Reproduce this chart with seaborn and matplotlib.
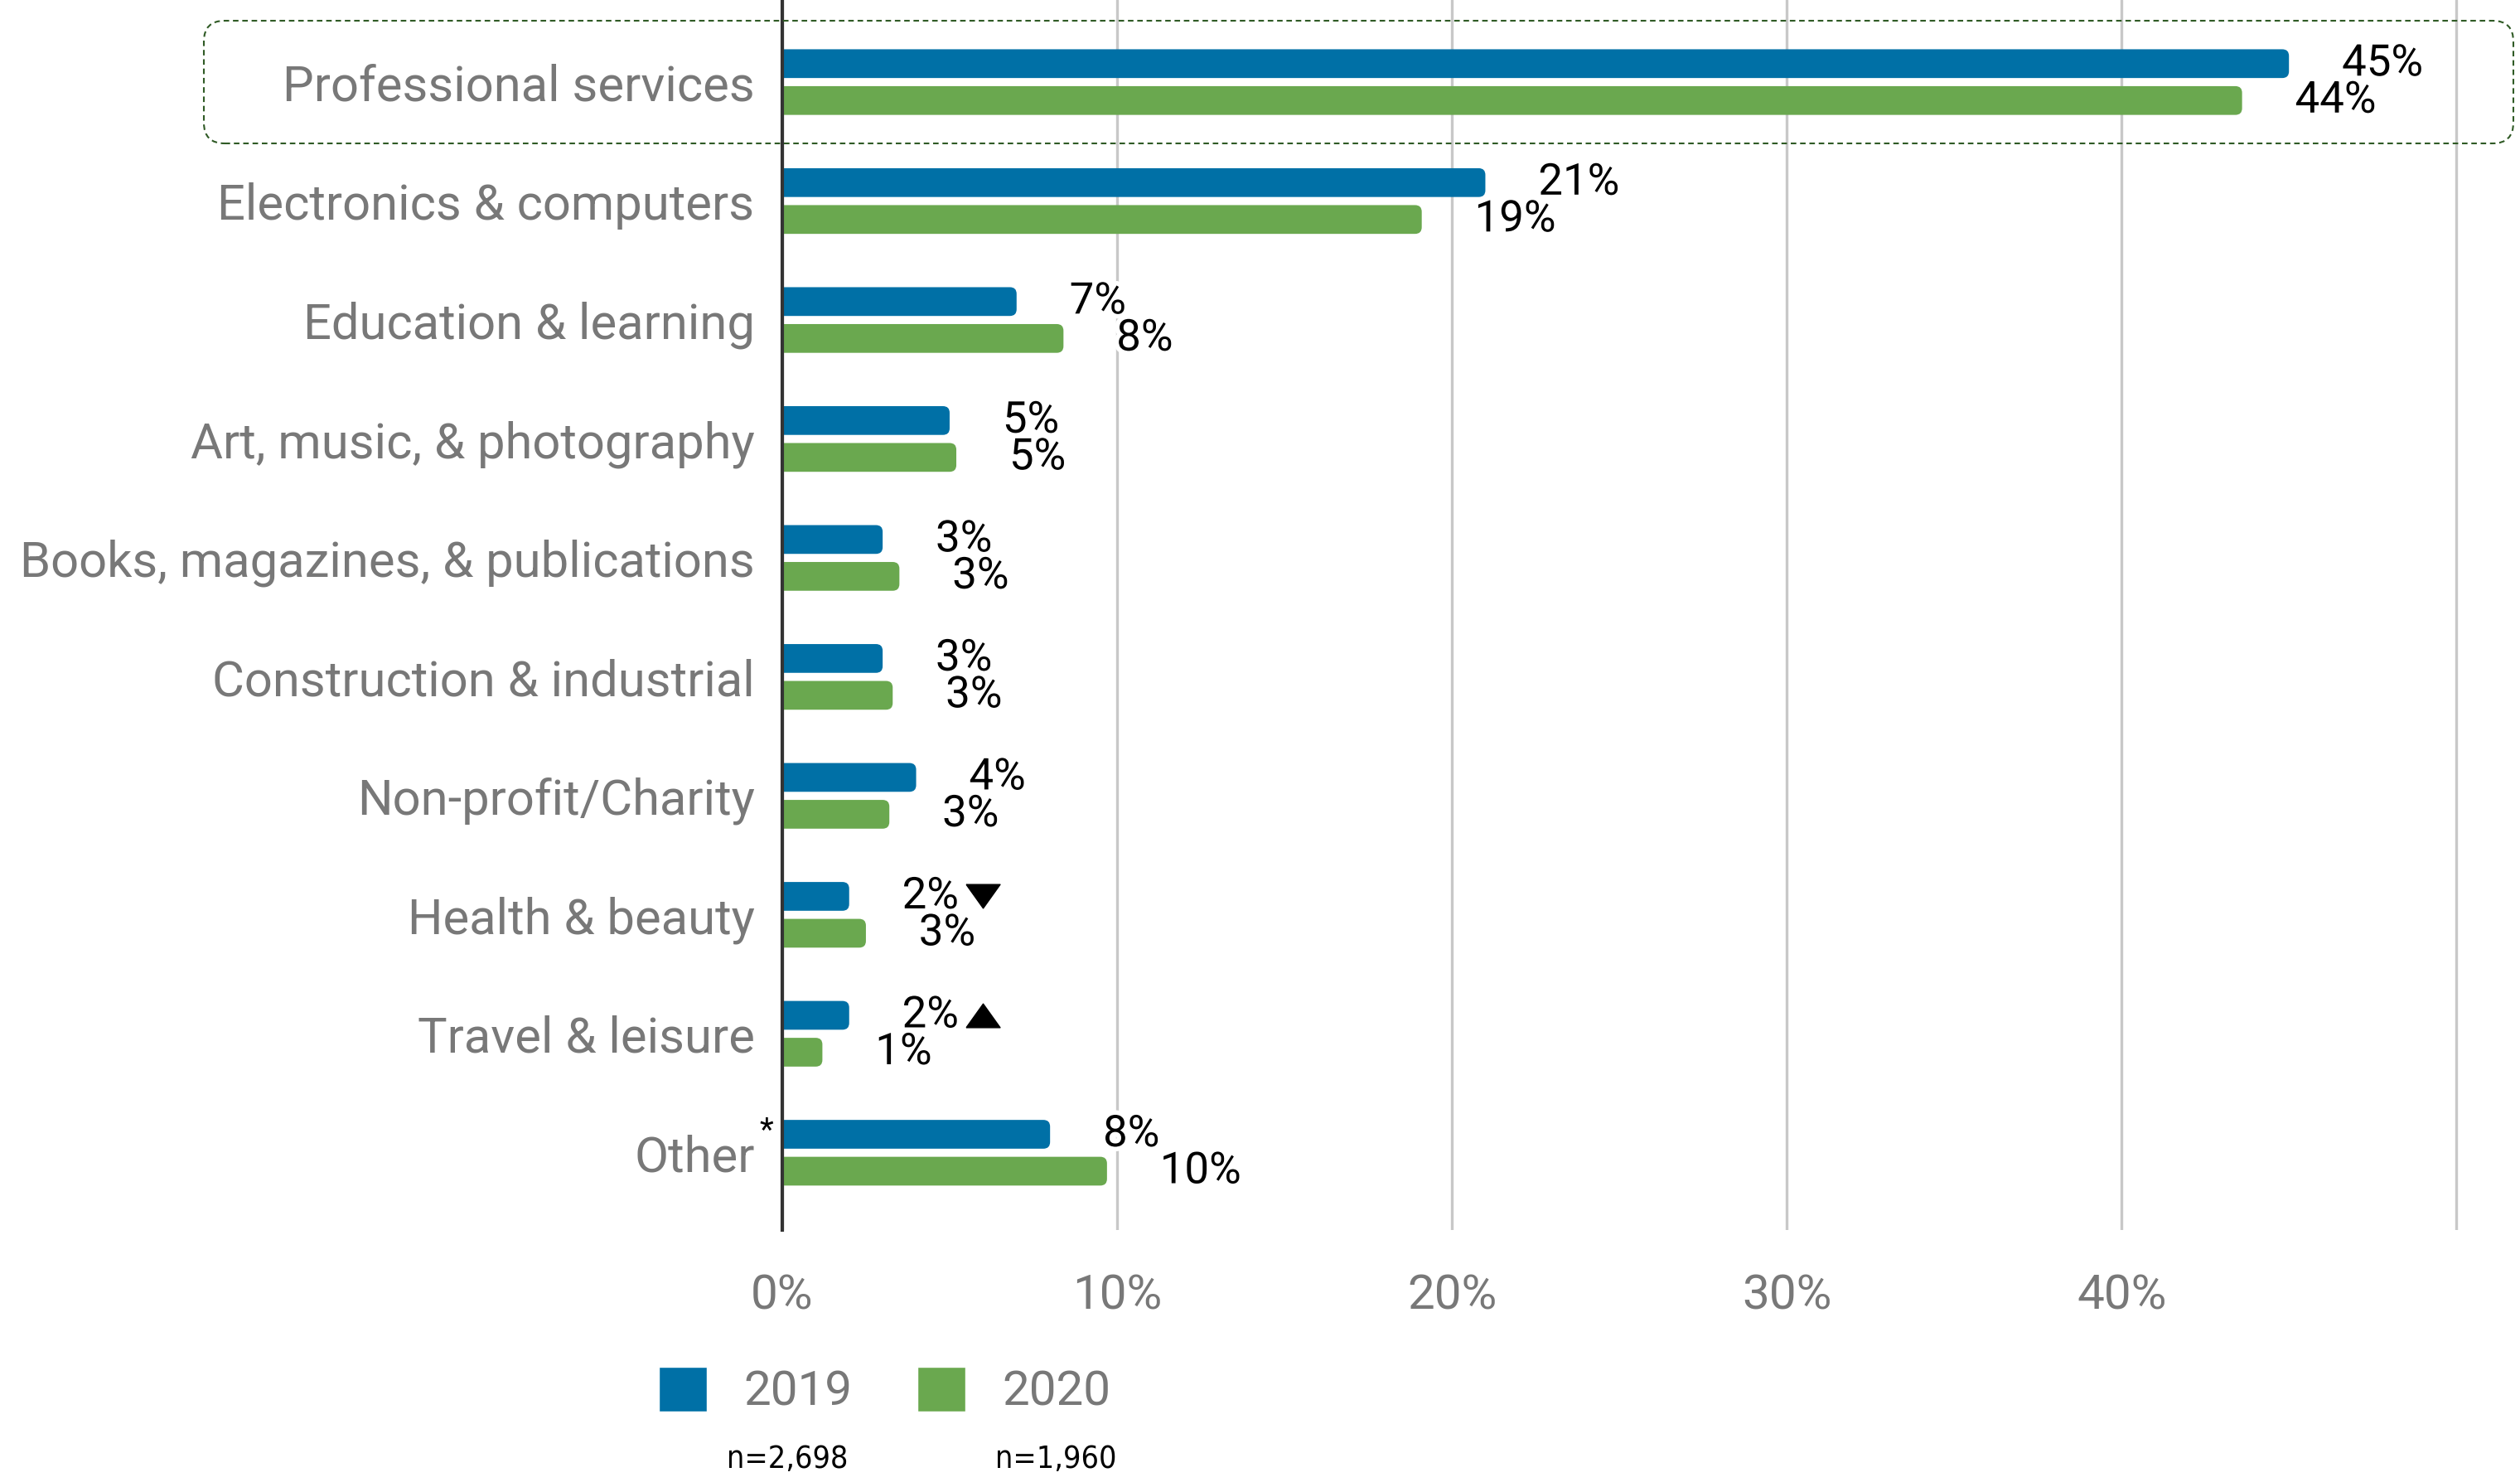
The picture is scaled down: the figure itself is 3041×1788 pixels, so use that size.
import pandas as pd
import matplotlib.pyplot as plt
import matplotlib.patheffects as pe
from matplotlib.patches import FancyBboxPatch
from matplotlib.transforms import ScaledTranslation
import seaborn as sns

sns.set_theme(style='white')
plt.rcParams['font.family'] = ['Roboto', 'DejaVu Sans']

# data (share of respondents, %)
categories = ['Professional services',
              'Electronics & computers',
              'Education & learning',
              'Art, music, & photography',
              'Books, magazines, & publications',
              'Construction & industrial',
              'Non-profit/Charity',
              'Health & beauty',
              'Travel & leisure',
              'Other']
share_2019 = [45.0, 21.0, 7.0, 5.0, 3.0, 3.0, 4.0, 2.0, 2.0, 8.0]
share_2020 = [43.6, 19.1, 8.4, 5.2, 3.5, 3.3, 3.2, 2.5, 1.2, 9.7]
labels_2019 = ['45%', '21%', '7%', '5%', '3%', '3%', '4%', '2%', '2%', '8%']
labels_2020 = ['44%', '19%', '8%', '5%', '3%', '3%', '3%', '3%', '1%', '10%']
years = ['2019', '2020']
sample_sizes = ['n=2,698', 'n=1,960']
change_down = ['Health & beauty']
change_up = ['Travel & leisure']

colors = {'2019': '#0070a6', '2020': '#6aa84f'}
grey = '#787878'

df = pd.DataFrame({'category': categories, '2019': share_2019, '2020': share_2020})
df = df.melt(id_vars='category', value_vars=years, var_name='year', value_name='share')

fig = plt.figure(figsize=(30.41, 17.88), dpi=100)
ax = fig.add_axes([0.3104, 0.170, 0.6896, 0.830])

sns.barplot(data=df, x='share', y='category', hue='year', palette=colors,
            orient='h', width=0.62, gap=0.22, saturation=1, ax=ax)

ax.set_xlim(0, 51.9)
ax.set_ylim(9.65, -0.69)
ax.set_xticks([0, 10, 20, 30, 40, 50])
ax.set_xticklabels(['0%', '10%', '20%', '30%', '40%', ''])
ax.set_xlabel('')
ax.set_ylabel('')
ax.grid(axis='x', color='#c8c8c8', lw=2.4)
ax.set_axisbelow(True)
for side in ['top', 'right', 'bottom']:
    ax.spines[side].set_visible(False)
ax.spines['left'].set_color('#333333')
ax.spines['left'].set_linewidth(3)
ax.spines['left'].set_zorder(4)
ax.tick_params(axis='y', length=0, pad=24, labelsize=43, labelcolor=grey)
ax.tick_params(axis='x', length=0, pad=38, labelsize=42, labelcolor=grey)

# value labels with white halo
halo = [pe.withStroke(linewidth=8, foreground='white')]
for cont, labs in zip(ax.containers, [labels_2019, labels_2020]):
    ax.bar_label(cont, labels=labs, padding=46, fontsize=38, color='black',
                 path_effects=halo, zorder=6)

# swap the plain rectangles for bars with rounded right ends
for cont in ax.containers:
    for bar in cont:
        rounded = FancyBboxPatch((bar.get_x() - 0.4, bar.get_y()), bar.get_width() + 0.4,
                                 bar.get_height(),
                                 boxstyle='round,pad=0,rounding_size=0.2',
                                 mutation_aspect=0.28, fc=bar.get_facecolor(),
                                 ec='none', zorder=3)
        ax.add_patch(rounded)
        bar.set_visible(False)

# change markers next to 2019 labels
shift = ScaledTranslation(1.61, 0, fig.dpi_scale_trans)
down = [(-1, 0.7), (1, 0.7), (0, -0.7), (-1, 0.7)]
up = [(-1, -0.7), (1, -0.7), (0, 0.7), (-1, -0.7)]
for names, verts in [(change_down, down), (change_up, up)]:
    for name in names:
        bar = ax.containers[0][categories.index(name)]
        ax.scatter([bar.get_width()], [bar.get_y() + bar.get_height() / 2],
                   marker=verts, s=870, color='black', transform=ax.transData + shift,
                   clip_on=False, zorder=5)

# asterisk on "Other"
ax.annotate('*', xy=(0, categories.index('Other')), xycoords=('axes fraction', 'data'),
            xytext=(-14, 18), textcoords='offset points', ha='center', va='center',
            fontsize=28, color='black', annotation_clip=False)

# dashed highlight box around the first row
box = FancyBboxPatch((2.46, 16.15), 27.87, 1.48, boxstyle='round,pad=0,rounding_size=0.25',
                     transform=fig.dpi_scale_trans, fill=False, ec='#2f5a25',
                     lw=1.5, ls=(0, (3.2, 2.2)), zorder=10)
fig.add_artist(box)

# legend
sns.move_legend(ax, 'center left', bbox_to_anchor=(0.2614, 0.0615),
                bbox_transform=fig.transFigure, ncol=2, frameon=False, title=None,
                fontsize=42, handlelength=1.0, handleheight=1.05, handletextpad=0.75,
                columnspacing=1.35, borderpad=0, borderaxespad=0)
for t in ax.get_legend().get_texts():
    t.set_color(grey)

for x, txt in zip([0.3124, 0.4190], sample_sizes):
    fig.text(x, 0.0151, txt, ha='center', va='center', fontsize=27, color='black',
             family=['Liberation Sans Narrow', 'DejaVu Sans'], fontstretch='condensed')

plt.savefig('out.png', dpi=100)
